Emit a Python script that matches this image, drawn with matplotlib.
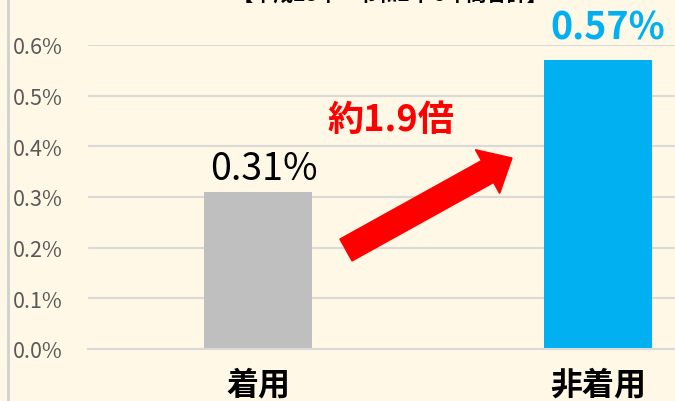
import matplotlib.pyplot as plt
from matplotlib.patches import FancyArrow
from matplotlib.transforms import IdentityTransform
from matplotlib.ticker import FuncFormatter

plt.rcParams["font.family"] = ["Noto Sans CJK JP", "DejaVu Sans"]

# data
categories = ["着用", "非着用"]
rates = [0.31, 0.57]
bar_colors = ["#BFBFBF", "#00B0F0"]
label_colors = ["#000000", "#00B0F0"]
label_weights = ["normal", "bold"]
label_offsets = [(4, 3), (7, 10)]
yticks = [0.0, 0.1, 0.2, 0.3, 0.4, 0.5, 0.6]
ratio_text = "約1.9倍"
title_text = "【平成28年～令和2年 5年間合計】"

bg = "#FFF8E6"
W, H = 675, 402

fig = plt.figure(figsize=(W / 100, H / 100), dpi=100, facecolor=bg)

# plot area: x from 88px, zero line at y=350px, 0.6% at y=46px
ax = fig.add_axes([88 / W, (H - 350) / H, 680 / W, (350 - 46) / H])
ax.set_facecolor(bg)

x = range(len(categories))
ax.bar(x, rates, width=0.315, color=bar_colors, zorder=3)
ax.set_xlim(-0.5, 1.5)
ax.set_ylim(0, 0.6)
ax.set_yticks(yticks)
ax.yaxis.set_major_formatter(FuncFormatter(lambda v, p: f"{v:.1f}%"))
ax.grid(axis="y", color="#D9D9D9", linewidth=1.5, zorder=0)
ax.set_xticks(list(x))
ax.set_xticklabels(categories, fontsize=23, fontweight="bold", color="#000000")
ax.tick_params(axis="x", length=0, pad=14)
ax.tick_params(axis="y", length=0, pad=18, labelsize=15.5, labelcolor="#595959")
for s in ax.spines.values():
    s.set_visible(False)
ax.axhline(0, color="#D9D9D9", linewidth=1.5, zorder=4, clip_on=False)

for i, v in enumerate(rates):
    ax.annotate(f"{v:.2f}%", (i, v), xytext=label_offsets[i],
                textcoords="offset points", ha="center", va="bottom",
                fontsize=27, color=label_colors[i], fontweight=label_weights[i],
                annotation_clip=False)

# red arrow (pixel coords, y up)
arrow = FancyArrow(346, H - 251, 166, 92, width=25, head_width=50,
                   head_length=28, length_includes_head=True,
                   color="#FF0000", transform=IdentityTransform())
fig.patches.append(arrow)

fig.text(391 / W, (H - 121) / H, ratio_text, ha="center", va="center",
         fontsize=26, fontweight="bold", color="#FF0000")

# title clipped at the top edge
fig.text(390 / W, (H - 1) / H, title_text, ha="center", va="baseline",
         fontsize=14.5, fontweight="bold", color="#000000")

# left border line
fig.add_artist(plt.Line2D([8 / W, 8 / W], [0, 1], color="#D0D0D0",
                          linewidth=2, transform=fig.transFigure))

fig.savefig("out.png", dpi=100, facecolor=bg)
